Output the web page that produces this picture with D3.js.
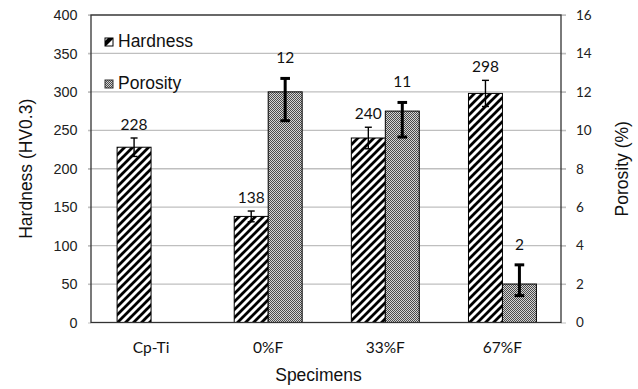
<!DOCTYPE html>
<html>
<head>
<meta charset="utf-8">
<script src="https://cdn.jsdelivr.net/npm/d3@7"></script>
<style>
  html, body { margin: 0; padding: 0; background: #fff; }
  svg { display: block; }
</style>
</head>
<body>
<svg id="chart" width="638" height="389"></svg>
<script>
// Specimens and measured values
const categories = ["Cp-Ti", "0%F", "33%F", "67%F"];
const hardness = [228, 138, 240, 298];          // HV0.3
const hardnessErr = [12, 7, 14, 17];            // ± HV0.3
const porosity = [null, 12, 11, 2];             // %
const porosityErrPlus = [null, 0.7, 0.45, 1.0];
const porosityErrMinus = [null, 1.5, 1.35, 0.6];
const hardnessTicks = [0, 50, 100, 150, 200, 250, 300, 350, 400];
const porosityTicks = [0, 2, 4, 6, 8, 10, 12, 14, 16];

(function () {
const svg = d3.select("#chart");
const W = 638, H = 389;
const plotL = 91, plotR = 561, plotT = 15, plotB = 322.5;

svg.append("rect").attr("width", W).attr("height", H).attr("fill", "#fff");

// Fill patterns
const defs = svg.append("defs");
const stripe = defs.append("pattern")
  .attr("id", "stripes").attr("patternUnits", "userSpaceOnUse")
  .attr("width", 8).attr("height", 8);
stripe.append("rect").attr("width", 8).attr("height", 8).attr("fill", "#fff");
stripe.append("path")
  .attr("d", "M-2,10 L10,-2 M-6,6 L6,-6 M2,14 L14,2")
  .attr("stroke", "#000").attr("stroke-width", 2.8);

const dots = defs.append("pattern")
  .attr("id", "dots").attr("patternUnits", "userSpaceOnUse")
  .attr("width", 2).attr("height", 2);
dots.append("rect").attr("width", 2).attr("height", 2).attr("fill", "#d4d4d4");
dots.append("rect").attr("width", 1).attr("height", 1).attr("fill", "#4a4a4a");
dots.append("rect").attr("x", 1).attr("y", 1).attr("width", 1).attr("height", 1).attr("fill", "#4a4a4a");

// Scales
const x = d3.scaleBand().domain(categories).range([92.5, plotR])
  .paddingInner(0.42).paddingOuter(0.21);
const y = d3.scaleLinear().domain([0, 400]).range([plotB, plotT]);
const y2 = d3.scaleLinear().domain([0, 16]).range([plotB, plotT]);
const bw = x.bandwidth() / 2;

// Gridlines
svg.append("g").selectAll("line").data(hardnessTicks.slice(1)).join("line")
  .attr("x1", plotL - 3).attr("x2", plotR + 5)
  .attr("y1", d => y(d)).attr("y2", d => y(d))
  .attr("stroke", "#bfbfbf").attr("stroke-width", 1.3);

// Left axis
const yAxis = svg.append("g").attr("transform", `translate(${plotL},0)`)
  .call(d3.axisLeft(y).tickValues(hardnessTicks).tickSize(3).tickPadding(10.5));
yAxis.select(".domain").remove();
yAxis.selectAll(".tick line").attr("stroke", "#bfbfbf");
yAxis.selectAll("text").attr("font-family", "'Liberation Sans', Arial, sans-serif")
  .attr("font-size", 14.4).attr("fill", "#222");

// Right axis
const y2Axis = svg.append("g").attr("transform", `translate(${plotR},0)`)
  .call(d3.axisRight(y2).tickValues(porosityTicks).tickSize(5).tickPadding(10));
y2Axis.select(".domain").remove();
y2Axis.selectAll(".tick line").attr("stroke", "#bfbfbf");
y2Axis.selectAll("text").attr("font-family", "Lato, 'Open Sans', sans-serif")
  .attr("font-size", 13.5).attr("fill", "#222");

// Bars
const hG = svg.append("g");
hG.selectAll("rect").data(hardness).join("rect")
  .attr("x", (d, i) => x(categories[i]))
  .attr("y", d => y(d))
  .attr("width", bw)
  .attr("height", d => y(0) - y(d))
  .attr("fill", "url(#stripes)").attr("stroke", "#000").attr("stroke-width", 1);

const pData = porosity.map((v, i) => ({ v, i })).filter(d => d.v !== null);
const pG = svg.append("g");
pG.selectAll("rect").data(pData).join("rect")
  .attr("x", d => x(categories[d.i]) + bw)
  .attr("y", d => y2(d.v))
  .attr("width", bw)
  .attr("height", d => y2(0) - y2(d.v))
  .attr("fill", "url(#dots)").attr("stroke", "#000").attr("stroke-width", 1);

// Plot frame
svg.append("rect").attr("x", plotL).attr("y", plotT)
  .attr("width", plotR - plotL).attr("height", plotB - plotT)
  .attr("fill", "none").attr("stroke", "#333").attr("stroke-width", 1.3);

// Error bars
hardness.forEach((v, i) => {
  const cx = x(categories[i]) + bw / 2;
  const g = svg.append("g").attr("stroke", "#000").attr("stroke-width", 1.4);
  const y1 = y(v + hardnessErr[i]), y0 = y(v - hardnessErr[i]);
  g.append("line").attr("x1", cx).attr("x2", cx).attr("y1", y1).attr("y2", y0);
  g.append("line").attr("x1", cx - 3.5).attr("x2", cx + 3.5).attr("y1", y1).attr("y2", y1);
  g.append("line").attr("x1", cx - 3.5).attr("x2", cx + 3.5).attr("y1", y0).attr("y2", y0);
});
pData.forEach(d => {
  const cx = x(categories[d.i]) + bw * 1.5;
  const g = svg.append("g").attr("stroke", "#000").attr("stroke-width", 3);
  const y1 = y2(d.v + porosityErrPlus[d.i]), y0 = y2(d.v - porosityErrMinus[d.i]);
  g.append("line").attr("x1", cx).attr("x2", cx).attr("y1", y1).attr("y2", y0);
  g.append("line").attr("x1", cx - 4.8).attr("x2", cx + 4.8).attr("y1", y1).attr("y2", y1);
  g.append("line").attr("x1", cx - 4.8).attr("x2", cx + 4.8).attr("y1", y0).attr("y2", y0);
});

// Value labels
const labelFont = "Lato, 'Open Sans', sans-serif";
svg.append("g").selectAll("text").data(hardness).join("text")
  .attr("x", (d, i) => x(categories[i]) + bw / 2)
  .attr("y", (d, i) => y(d + hardnessErr[i]) - 8.5)
  .attr("text-anchor", "middle").attr("font-family", labelFont)
  .attr("font-size", 15.5).attr("fill", "#111").text(d => d);
svg.append("g").selectAll("text").data(pData).join("text")
  .attr("x", d => x(categories[d.i]) + bw * 1.5)
  .attr("y", d => y2(d.v + porosityErrPlus[d.i]) - 15)
  .attr("text-anchor", "middle").attr("font-family", labelFont)
  .attr("font-size", 15.5).attr("fill", "#111").text(d => d.v);

// Category labels
svg.append("g").selectAll("text").data(categories).join("text")
  .attr("x", d => x(d) + x.bandwidth() / 2)
  .attr("y", 353)
  .attr("text-anchor", "middle").attr("font-family", labelFont)
  .attr("font-size", 15.5).attr("fill", "#111").text(d => d);

// Axis titles
const titleFont = "'Liberation Sans', Arial, sans-serif";
svg.append("text").attr("x", 318.5).attr("y", 381)
  .attr("text-anchor", "middle").attr("font-family", titleFont)
  .attr("font-size", 17.5).attr("fill", "#111").text("Specimens");
svg.append("text").attr("transform", `translate(32,${(plotT + plotB) / 2}) rotate(-90)`)
  .attr("text-anchor", "middle").attr("font-family", titleFont)
  .attr("font-size", 17.5).attr("fill", "#111").text("Hardness (HV0.3)");
svg.append("text").attr("transform", `translate(628,${(plotT + plotB) / 2}) rotate(-90)`)
  .attr("text-anchor", "middle").attr("font-family", titleFont)
  .attr("font-size", 17.5).attr("fill", "#111").text("Porosity (%)");

// Legend
const legend = svg.append("g").attr("transform", "translate(105,38)");
const hKey = legend.append("g");
hKey.append("rect").attr("width", 8).attr("height", 8).attr("fill", "#fff")
  .attr("stroke", "#000").attr("stroke-width", 1);
hKey.append("path").attr("d", "M0,8 L0,3 L3,0 L8,0 L8,1 L1,8 Z").attr("fill", "#000");
hKey.append("text").attr("x", 13).attr("y", 8.5).attr("font-family", titleFont)
  .attr("font-size", 17.5).attr("fill", "#111").text("Hardness");
const pKey = legend.append("g").attr("transform", "translate(0,42)");
pKey.append("rect").attr("width", 8).attr("height", 8).attr("fill", "url(#dots)")
  .attr("stroke", "#333").attr("stroke-width", 1);
pKey.append("text").attr("x", 13).attr("y", 8.5).attr("font-family", titleFont)
  .attr("font-size", 17.5).attr("fill", "#111").text("Porosity");
})();
</script>
</body>
</html>
